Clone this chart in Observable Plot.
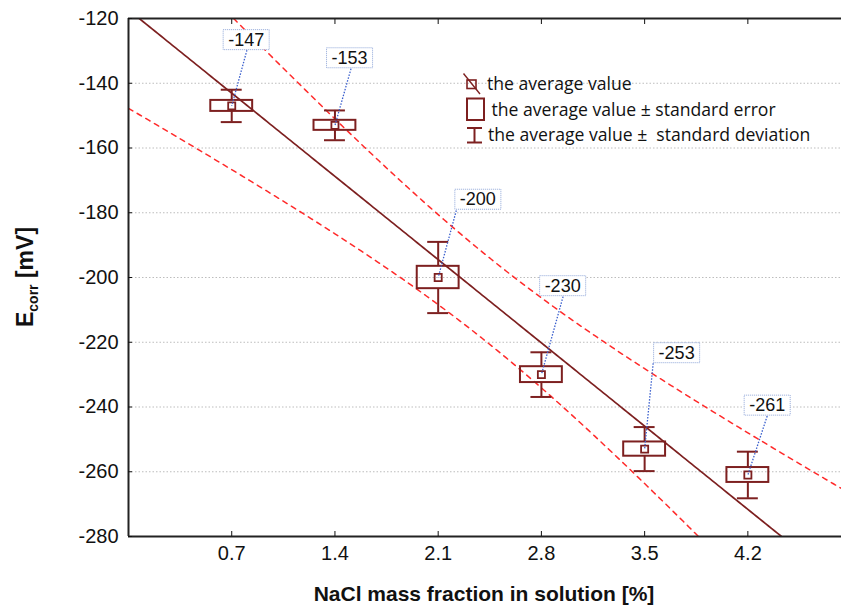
<!DOCTYPE html>
<html><head><meta charset="utf-8">
<script src="https://cdn.jsdelivr.net/npm/d3@7"></script>
<script src="https://cdn.jsdelivr.net/npm/@observablehq/plot@0.6"></script>
<style>body{margin:0;background:#fff;} svg{display:block}</style>
</head><body><div id="chart"></div>
<script>
// ---- data ----
const nacl   = [0.7, 1.4, 2.1, 2.8, 3.5, 4.2];
const meanE  = [-147, -153, -200, -230, -253, -261];
const stdErr = [1.7, 1.55, 3.45, 2.45, 2.2, 2.3];
const stdDev = [5.0, 4.6, 11.0, 6.9, 6.8, 7.2];
// annotation anchors (data units)
const labelX  = [0.798, 1.499, 2.369, 2.944, 3.717, 4.331];
const labelY  = [-126.6, -132.2, -175.9, -202.6, -223.3, -239.5];
const leaderX = [0.803, 1.509, 2.223, 2.947, 3.558, 4.331];
const leaderY = [-129.8, -135.5, -179.3, -205.9, -226.5, -242.8];
const xTicks = [0.7, 1.4, 2.1, 2.8, 3.5, 4.2];
const yTicks = [-280, -260, -240, -220, -200, -180, -160, -140, -120];
const xTitle = "NaCl mass fraction in solution [%]";
const yTitleMain = "E", yTitleSub = "corr", yTitleUnit = " [mV]";
const legendItems = ["the average value", "the average value \u00b1 standard error", "the average value \u00b1  standard deviation"];

const dark = "#7d2020";
const rows = nacl.map((x, i) => ({x, m: meanE[i], se: stdErr[i], sd: stdDev[i],
  lx: labelX[i], ly: labelY[i], ax: leaderX[i], ay: leaderY[i]}));

// linear fit of the means with 95% confidence band
const n = nacl.length;
const mx = d3.mean(nacl), my = d3.mean(meanE);
const sxx = d3.sum(nacl, x => (x - mx) ** 2);
const sxy = d3.sum(nacl, (x, i) => (x - mx) * (meanE[i] - my));
const b = sxy / sxx, a = my - b * mx;
const s = Math.sqrt(d3.sum(nacl, (x, i) => (meanE[i] - a - b * x) ** 2) / (n - 2));
const tq = 2.776; // t(0.975, df = 4)
const fit = d3.range(0, 4.92, 0.02).map(x => {
  const h = tq * s * Math.sqrt(1 / n + (x - mx) ** 2 / sxx);
  const y = a + b * x;
  return {x, y, lo: y - h, hi: y + h};
});

const boxHalf = 0.142, capHalf = 0.071;

const svg = Plot.plot({
  width: 841, height: 606,
  marginLeft: 128, marginRight: 0, marginTop: 18, marginBottom: 70,
  x: {domain: [0, 4.835], label: null},
  y: {domain: [-280, -120], label: null},
  style: {fontFamily: "'Liberation Sans', Arial, sans-serif", background: "#fff", color: "#111"},
  marks: [
    Plot.gridY(yTicks.slice(1, -1), {stroke: "#bdbdbd", strokeOpacity: 1, strokeDasharray: "1.5,2"}),
    Plot.line(fit, {x: "x", y: "hi", stroke: "#ff2a2a", strokeWidth: 1.5, strokeDasharray: "5,5", clip: true}),
    Plot.line(fit, {x: "x", y: "lo", stroke: "#ff2a2a", strokeWidth: 1.5, strokeDasharray: "5,5", clip: true}),
    Plot.line(fit, {x: "x", y: "y", stroke: dark, strokeWidth: 1.7, clip: true}),
    Plot.ruleX([0], {stroke: "#222", strokeWidth: 2}),
    Plot.ruleY([-280, -120], {stroke: "#222", strokeWidth: 2}),
    Plot.axisY(yTicks, {tickSize: -4, tickPadding: 14, fontSize: 20, tickFormat: d => String(d), label: null}),
    Plot.axisX(xTicks, {tickSize: -5, tickPadding: 14, fontSize: 20, tickFormat: d => d.toFixed(1), label: null}),
    Plot.axisX(xTicks, {anchor: "top", tickSize: -5, tickFormat: () => "", label: null}),
    // boxes: mean ± standard error
    Plot.rect(rows, {x1: d => d.x - boxHalf, x2: d => d.x + boxHalf, y1: d => d.m - d.se, y2: d => d.m + d.se,
      fill: "none", stroke: dark, strokeWidth: 2}),
    // whiskers: mean ± standard deviation
    Plot.ruleX(rows, {x: "x", y1: d => d.m + d.se, y2: d => d.m + d.sd, stroke: dark, strokeWidth: 2}),
    Plot.ruleX(rows, {x: "x", y1: d => d.m - d.se, y2: d => d.m - d.sd, stroke: dark, strokeWidth: 2}),
    Plot.ruleY(rows, {y: d => d.m + d.sd, x1: d => d.x - capHalf, x2: d => d.x + capHalf, stroke: dark, strokeWidth: 2}),
    Plot.ruleY(rows, {y: d => d.m - d.sd, x1: d => d.x - capHalf, x2: d => d.x + capHalf, stroke: dark, strokeWidth: 2}),
    // mean marker
    Plot.dot(rows, {x: "x", y: "m", symbol: "square", r: 4, stroke: dark, strokeWidth: 1.8, fill: "none"}),
    // leaders and value labels
    Plot.link(rows, {x1: "ax", y1: "ay", x2: "x", y2: "m", stroke: "#3a5fcd", strokeWidth: 1.3, strokeDasharray: "1.5,1.5"}),
    Plot.text(rows, {x: "lx", y: "ly", text: d => String(d.m), fontSize: 18, fill: "#111"})
  ]
});
const labelGroup = svg.lastElementChild;
document.getElementById("chart").append(svg);

const sel = d3.select(svg);
// boxes behind value labels
d3.select(labelGroup).selectAll("text").each(function () {
  const bb = this.getBBox();
  const r = d3.select(this.parentNode).insert("rect", () => this)
    .attr("x", bb.x - 5).attr("y", bb.y).attr("width", bb.width + 10).attr("height", bb.height)
    .attr("fill", "#fff").attr("stroke", "#8fa6d8").attr("stroke-width", 1).attr("stroke-dasharray", "1,1");
  const tr = this.getAttribute("transform");
  if (tr) r.attr("transform", tr);
});

// axis titles
sel.append("text").attr("x", 484).attr("y", 601).attr("text-anchor", "middle")
  .attr("font-size", 21).attr("font-weight", "bold").attr("fill", "#111").text(xTitle);
const yt = sel.append("text").attr("transform", "translate(33,277) rotate(-90)").attr("text-anchor", "middle")
  .attr("font-size", 23).attr("font-weight", "bold").attr("fill", "#111");
yt.append("tspan").text(yTitleMain);
yt.append("tspan").attr("font-size", 14).attr("dy", 5).text(yTitleSub);
yt.append("tspan").attr("dy", -5).text(yTitleUnit);

// legend
const lg = sel.append("g").attr("font-family", "'Open Sans', sans-serif").attr("font-size", 17.6)
  .attr("fill", "#111").attr("text-anchor", "start");
lg.append("rect").attr("x", 467).attr("y", 80).attr("width", 9).attr("height", 8.5).attr("fill", "none").attr("stroke", dark).attr("stroke-width", 1.6);
lg.append("line").attr("x1", 463.5).attr("y1", 73.5).attr("x2", 480).attr("y2", 94).attr("stroke", dark).attr("stroke-width", 1.4);
lg.append("rect").attr("x", 467).attr("y", 98.5).attr("width", 17).attr("height", 21.5).attr("fill", "none").attr("stroke", dark).attr("stroke-width", 2);
lg.append("line").attr("x1", 467).attr("y1", 128).attr("x2", 482).attr("y2", 128).attr("stroke", dark).attr("stroke-width", 2);
lg.append("line").attr("x1", 467).attr("y1", 142.5).attr("x2", 482).attr("y2", 142.5).attr("stroke", dark).attr("stroke-width", 2);
lg.append("line").attr("x1", 474.5).attr("y1", 128).attr("x2", 474.5).attr("y2", 142.5).attr("stroke", dark).attr("stroke-width", 2);
const lgX = [487, 491.5, 488], lgY = [90, 115.7, 140.7];
legendItems.forEach((t, i) => lg.append("text").attr("x", lgX[i]).attr("y", lgY[i])
  .attr("text-anchor", "start").style("white-space", "pre").text(t));
</script>
</body></html>
